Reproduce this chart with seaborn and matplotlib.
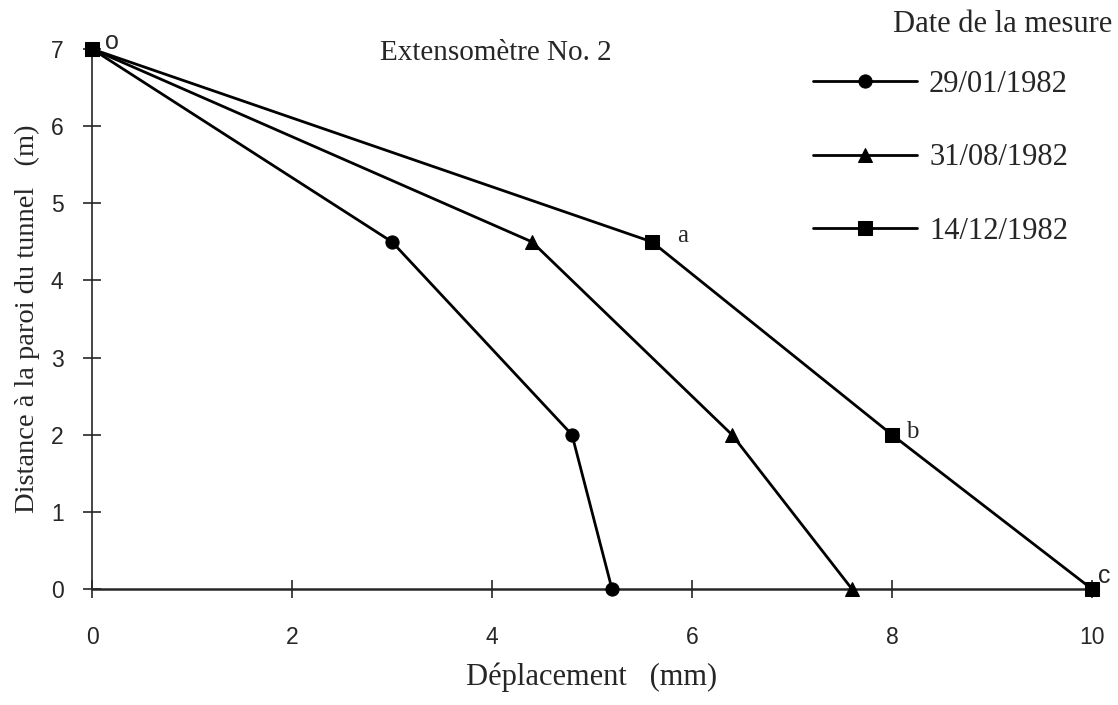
import pandas as pd
import matplotlib
matplotlib.use("Agg")
import matplotlib.pyplot as plt
import seaborn as sns

# Extensometre No. 2 - deplacement vs distance a la paroi
dates = ["29/01/1982", "31/08/1982", "14/12/1982"]
distance = [7, 4.5, 2, 0]
dep_jan = [0, 3.0, 4.8, 5.2]
dep_aug = [0, 4.4, 6.4, 7.6]
dep_dec = [0, 5.6, 8.0, 10.0]
point_labels = ["o", "a", "b", "c"]

rows = []
for date, deps in zip(dates, [dep_jan, dep_aug, dep_dec]):
    for d, y in zip(deps, distance):
        rows.append({"date": date, "dep": d, "dist": y})
df = pd.DataFrame(rows)

sns.set_style("ticks")
plt.rcParams["font.family"] = ["Liberation Serif", "DejaVu Serif"]
sans = ["Liberation Sans", "DejaVu Sans"]

fig = plt.figure(figsize=(11.18, 7.05), dpi=100)
ax = fig.add_axes([0.0823, 0.1645, 0.8944, 0.766])

sns.lineplot(data=df, x="dep", y="dist", hue="date", style="date",
             hue_order=dates, style_order=dates,
             markers=["o", "^", "s"], dashes=False,
             palette=["black"] * 3, sort=False, estimator=None,
             markersize=9.5, linewidth=2, markeredgecolor="black",
             ax=ax, clip_on=False, zorder=3)

ax.set_xlim(0, 10)
ax.set_ylim(0, 7)
ax.set_xticks(range(0, 11, 2))
ax.set_yticks(range(0, 8))
sns.despine(ax=ax)
ax.spines["left"].set_linewidth(1.2)
ax.spines["bottom"].set_linewidth(1.8)
ax.tick_params(direction="inout", length=13, width=1.2, labelsize=16.5)
ax.tick_params(axis="x", pad=20)
ax.tick_params(axis="y", pad=14)
for lab in ax.get_xticklabels() + ax.get_yticklabels():
    lab.set_family(sans)

ax.set_xlabel("Déplacement   (mm)", fontsize=22, labelpad=10)
ax.set_ylabel("Distance à la paroi du tunnel   (m)", fontsize=20.5, labelpad=8)
ax.text(4.04, 6.95, "Extensomètre No. 2", fontsize=21, ha="center", va="center")

# point labels along the last series (o and c in sans, a and b in serif)
offsets = [(0.2, 0.09), (0.31, 0.07), (0.2, 0.03), (0.12, 0.17)]
fams = [sans, None, None, sans]
for lab, x, y, (ox, oy), fam in zip(point_labels, dep_dec, distance, offsets, fams):
    t = ax.text(x + ox, y + oy, lab, fontsize=18, ha="center", va="center",
                clip_on=False)
    if fam:
        t.set_family(fam)

handles, labels = ax.get_legend_handles_labels()
ax.legend(handles, labels, loc="upper left",
          bbox_to_anchor=(813 / 1118, 1 - 70 / 705),
          bbox_transform=fig.transFigure, frameon=False, fontsize=22,
          labelspacing=1.45, handlelength=3.4, handletextpad=0.4,
          borderpad=0, borderaxespad=0)
fig.text(1112 / 1118, 1 - 25 / 705, "Date de la mesure", fontsize=22,
         ha="right", va="center")

fig.savefig("out.png", dpi=100)
